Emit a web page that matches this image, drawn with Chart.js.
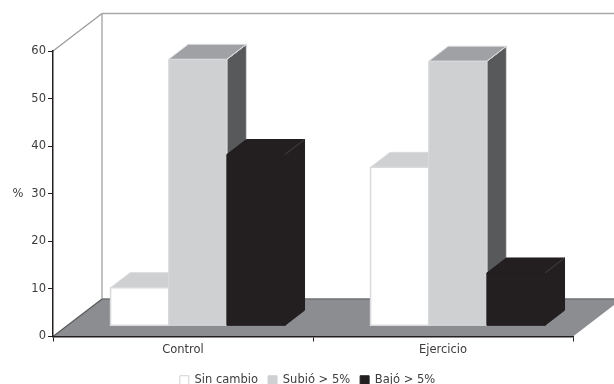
<!DOCTYPE html>
<html>
<head>
<meta charset="utf-8">
<title>Cambio de peso</title>
<script src="https://cdn.jsdelivr.net/npm/chart.js@4"></script>
<style>
    html, body { margin: 0; padding: 0; background: #fff; }
    #wrap { position: relative; width: 614px; height: 384px; overflow: hidden; }
</style>
</head>
<body>
<div id="wrap"><canvas id="chart" width="614" height="384"></canvas></div>
<script>
const categories = ['Control', 'Ejercicio'];
const sinCambio = [8, 33.3];
const subio = [56, 55.6];
const bajo = [36, 11.1];
const yTicks = [0, 10, 20, 30, 40, 50, 60];

// Box shading per series: front, top, right side, edge, top-right ridge
const faces = [
    { front: '#ffffff', top: '#cfd0d2', side: '#cfd0d2', edge: '#d9dadc', edgeWidth: 1.5, ridge: '#d9dadc' },
    { front: '#cfd0d2', top: '#a0a1a4', side: '#58595b', edge: '#d9dadc', edgeWidth: 1, ridge: '#d9dadc' },
    { front: '#231f20', top: '#231f20', side: '#231f20', edge: '#231f20', edgeWidth: 1, ridge: '#4a4748' }
];

const textColor = '#3c3c3e';
const font = { family: '"DejaVu Sans", sans-serif', size: 11.5 };

// Perspective offsets of the fake 3D box
const wall = { dx: 49, dy: 37.5 };
const inset = { dx: 14.8, dy: 10.7 };
const depth = { dx: 19.5, dy: 15 };

function polygon(ctx, points, fill, stroke, width) {
    ctx.beginPath();
    points.forEach((p, i) => i ? ctx.lineTo(p[0], p[1]) : ctx.moveTo(p[0], p[1]));
    ctx.closePath();
    if (fill) {
        ctx.fillStyle = fill;
        ctx.fill();
    }
    if (stroke) {
        ctx.strokeStyle = stroke;
        ctx.lineWidth = width || 1;
        ctx.stroke();
    }
}

function line(ctx, x1, y1, x2, y2, color, width) {
    ctx.beginPath();
    ctx.moveTo(x1, y1);
    ctx.lineTo(x2, y2);
    ctx.strokeStyle = color;
    ctx.lineWidth = width;
    ctx.stroke();
}

function drawBoxes(ctx, meta, style) {
    meta.data.forEach(bar => {
        const left = bar.x - bar.width / 2 + inset.dx;
        const right = bar.x + bar.width / 2 + inset.dx;
        const top = bar.y - inset.dy;
        const bottom = bar.base - inset.dy;
        const backR = right + depth.dx;
        const backT = top - depth.dy;
        polygon(ctx, [[right, top], [backR, backT], [backR, bottom - depth.dy], [right, bottom]], style.side, style.edge, 1);
        polygon(ctx, [[left, top], [left + depth.dx, backT], [backR, backT], [right, top]], style.top, style.edge, 1);
        line(ctx, right, top, backR, backT, style.ridge, 0.8);
        polygon(ctx, [[left, top], [right, top], [right, bottom], [left, bottom]], style.front, style.edge, style.edgeWidth);
    });
}

const box3d = {
    id: 'box3d',
    // Legend is centred on the page rather than on the plot
    afterLayout(chart) {
        chart.legend.left += 21;
        chart.legend.right += 21;
    },
    beforeDraw(chart) {
        const { ctx, chartArea: a } = chart;
        ctx.save();
        // floor
        polygon(ctx, [
            [a.left, a.bottom],
            [a.right, a.bottom],
            [a.right + wall.dx, a.bottom - wall.dy],
            [a.left + wall.dx, a.bottom - wall.dy]
        ], '#8c8d90');
        line(ctx, a.left + wall.dx, a.bottom - wall.dy, a.right + wall.dx, a.bottom - wall.dy, '#6f7073', 1.5);
        line(ctx, a.left, a.bottom, a.left + wall.dx, a.bottom - wall.dy, '#58595b', 1.2);
        // back and side walls
        line(ctx, a.left + wall.dx, a.bottom - wall.dy, a.left + wall.dx, a.top - wall.dy, '#98999b', 1.2);
        line(ctx, a.left + wall.dx, a.top - wall.dy, a.right + wall.dx, a.top - wall.dy, '#a8a9ab', 1.5);
        line(ctx, a.left, a.top, a.left + wall.dx, a.top - wall.dy, '#98999b', 1.2);
        ctx.restore();
    },
    // Boxes go left to right so each one overlaps the side of the previous
    beforeDatasetsDraw(chart) {
        const ctx = chart.ctx;
        ctx.save();
        faces.forEach((style, i) => drawBoxes(ctx, chart.getDatasetMeta(i), style));
        ctx.restore();
    },
    beforeDatasetDraw() {
        return false;
    },
    afterDraw(chart) {
        const { ctx, chartArea: a } = chart;
        ctx.save();
        ctx.fillStyle = textColor;
        ctx.font = font.size + 'px ' + font.family;
        ctx.textAlign = 'center';
        ctx.textBaseline = 'middle';
        ctx.fillText('%', 18, (a.top + a.bottom) / 2);
        ctx.restore();
    }
};

new Chart(document.getElementById('chart'), {
    type: 'bar',
    data: {
        labels: categories,
        datasets: [
            { label: 'Sin cambio', data: sinCambio, backgroundColor: '#ffffff', borderColor: '#d0d1d3', borderWidth: 1 },
            { label: 'Subió > 5%', data: subio, backgroundColor: '#cfd0d2', borderColor: '#cfd0d2', borderWidth: 1 },
            { label: 'Bajó > 5%', data: bajo, backgroundColor: '#231f20', borderColor: '#231f20', borderWidth: 1 }
        ]
    },
    plugins: [box3d],
    options: {
        responsive: false,
        animation: false,
        layout: { padding: { top: 51, right: 41, left: 0, bottom: -12 } },
        datasets: { bar: { categoryPercentage: 0.671, barPercentage: 1 } },
        plugins: {
            tooltip: { enabled: false },
            legend: {
                position: 'bottom',
                labels: { boxWidth: 9, boxHeight: 9, padding: 10, color: textColor, font: font }
            }
        },
        scales: {
            x: {
                afterFit(scale) { scale.height = 28; },
                grid: { offset: true, drawOnChartArea: false, tickLength: 5, tickColor: '#231f20' },
                border: { color: '#231f20', width: 1.5 },
                ticks: { color: textColor, font: font, padding: 2 }
            },
            y: {
                min: 0,
                max: 60,
                afterFit(scale) { scale.width = 53; },
                afterBuildTicks(scale) { scale.ticks = yTicks.map(v => ({ value: v })); },
                grid: { drawOnChartArea: false, tickLength: 5, tickColor: '#231f20' },
                border: { color: '#231f20', width: 1.5 },
                ticks: { color: textColor, font: font, padding: 2 }
            }
        }
    }
});
</script>
</body>
</html>
